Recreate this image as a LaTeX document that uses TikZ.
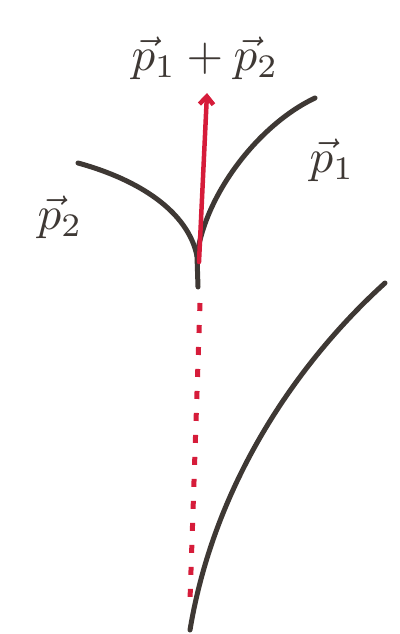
\documentclass[tikz,border=0pt]{standalone}
\usetikzlibrary{arrows.meta}
\definecolor{ink}{RGB}{62,56,52}
\definecolor{redink}{RGB}{214,28,58}
\begin{document}
\begin{tikzpicture}[x=1pt,y=-1pt,
  blackline/.style={draw=ink,line width=5pt,line cap=round},
  redline/.style={draw=redink,line width=4.5pt,line cap=round},
  lbl/.style={text=ink,font=\normalsize,inner sep=0pt,scale=4.7}]
\useasboundingbox (0,0) rectangle (399,634);
% nodes
\coordinate (J) at (197,256);
\coordinate (S) at (198,287);
\coordinate (L) at (78,163);
\coordinate (R) at (315,98);
\coordinate (T) at (207,93);
\coordinate (A) at (199,262);
\coordinate (D1) at (200,303);
\coordinate (D2) at (190,600);
\coordinate (B1) at (190,630);
\coordinate (B2) at (385,283);
% branches
\draw[blackline] (L) .. controls (140,180) and (188,212) .. (J);
\draw[blackline] (J) .. controls (205,195) and (258,125) .. (R);
\draw[blackline] (J) -- (S);
% red arrow
\draw[redline,-{Straight Barb[length=8pt,width=14pt]}] (A) -- (T);
% red dotted
\draw[redline,line width=5pt,line cap=butt,dash pattern=on 8pt off 14pt] (D1) -- (D2);
% lower curve
\draw[blackline] (B1) .. controls (215,480) and (300,360) .. (B2);
% labels
\node[lbl] (sum) at (205,58) {$\vec{p}_1+\vec{p}_2$};
\node[lbl] (p1) at (332,160) {$\vec{p}_1$};
\node[lbl] (p2) at (60,217) {$\vec{p}_2$};
\end{tikzpicture}
\end{document}
